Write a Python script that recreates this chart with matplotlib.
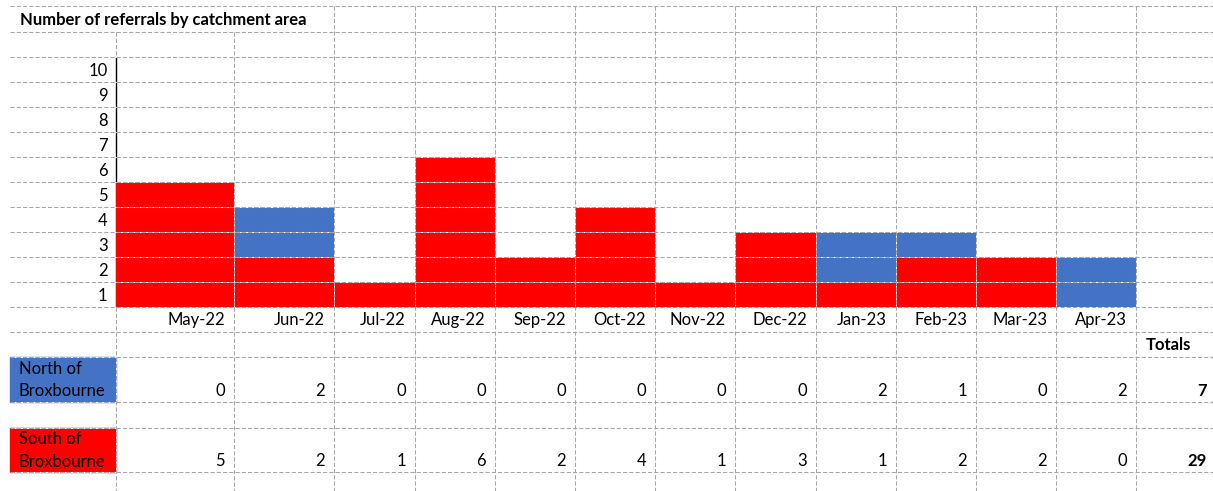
import matplotlib.pyplot as plt

# data
months = ['May-22', 'Jun-22', 'Jul-22', 'Aug-22', 'Sep-22', 'Oct-22',
          'Nov-22', 'Dec-22', 'Jan-23', 'Feb-23', 'Mar-23', 'Apr-23']
north = [0, 2, 0, 0, 0, 0, 0, 0, 2, 1, 0, 2]
south = [5, 2, 1, 6, 2, 4, 1, 3, 1, 2, 2, 0]
y_labels = list(range(1, 11))
title = 'Number of referrals by catchment area'

# sheet layout (pixels)
W, H = 1213, 491
col_edges = [116, 234, 334, 415, 495, 575, 655, 735, 816, 896, 976, 1056, 1136]
row_lines = [6, 32, 57, 82, 107, 132, 157, 182, 207, 232, 257, 282, 307,
             332, 357, 402, 428, 472]
RED = '#FF0000'
BLUE = '#4472C4'
GRID = '#A6A6A6'
FONT = 'Lato'
FS = 12

fig = plt.figure(figsize=(W / 100, H / 100), dpi=100)

# chart area: rows 1..10 sit between y=307 and y=57
ax = fig.add_axes([116 / W, (H - 307) / H, (1136 - 116) / W, 250 / H])
lefts = col_edges[:-1]
widths = [b - a for a, b in zip(col_edges[:-1], col_edges[1:])]
ax.bar(lefts, south, width=widths, align='edge', color=RED, zorder=3, linewidth=0)
ax.bar(lefts, north, width=widths, bottom=south, align='edge', color=BLUE,
       zorder=3, linewidth=0)
ax.set_xlim(116, 1136)
ax.set_ylim(0, 10)
ax.set_yticks([v - 0.5 for v in y_labels])
ax.set_yticklabels([str(v) for v in y_labels], fontfamily=FONT, fontsize=FS)
ax.tick_params(axis='y', length=0, pad=6)
ax.set_xticks([])
for s in ['top', 'right', 'bottom']:
    ax.spines[s].set_visible(False)
ax.spines['left'].set_color('black')
ax.spines['left'].set_linewidth(1.0)
ax.patch.set_alpha(0)

# overlay for the sheet grid and text
ov = fig.add_axes([0, 0, 1, 1], facecolor='none')
ov.set_xlim(0, W)
ov.set_ylim(H, 0)
ov.axis('off')

dash = dict(color=GRID, lw=0.75, linestyle=(0, (4, 2)), gapcolor='white')
for y in row_lines:
    ov.plot([10, W], [y, y], **dash)
for x in col_edges:
    if x == 116:
        # the value axis line takes this border inside the chart rows
        ov.plot([x, x], [32, 57], **dash)
        ov.plot([x, x], [307, H], **dash)
        continue
    top = 32 if x < 334 else 6
    ov.plot([x, x], [top, H], **dash)

ov.text(20, 20, title, fontfamily=FONT, fontsize=FS, fontweight='bold',
        va='center', ha='left')

for i, m in enumerate(months):
    ov.text(col_edges[i + 1] - 9, 320, m, fontfamily=FONT, fontsize=FS,
            ha='right', va='center')

# legend-like table rows
ov.add_patch(plt.Rectangle((10, 357), 106, 45, color=BLUE, zorder=1))
ov.add_patch(plt.Rectangle((10, 428), 106, 44, color=RED, zorder=1))
ov.text(19, 369, 'North of', fontfamily=FONT, fontsize=FS, va='center')
ov.text(19, 391, 'Broxbourne', fontfamily=FONT, fontsize=FS, va='center')
ov.text(19, 439, 'South of', fontfamily=FONT, fontsize=FS, va='center')
ov.text(19, 462, 'Broxbourne', fontfamily=FONT, fontsize=FS, va='center')

for i in range(len(months)):
    ov.text(col_edges[i + 1] - 9, 391, str(north[i]), fontfamily=FONT,
            fontsize=FS, ha='right', va='center')
    ov.text(col_edges[i + 1] - 9, 461, str(south[i]), fontfamily=FONT,
            fontsize=FS, ha='right', va='center')

ov.text(1146, 345, 'Totals', fontfamily=FONT, fontsize=FS, fontweight='bold',
        va='center')
ov.text(1207, 391, str(sum(north)), fontfamily=FONT, fontsize=FS,
        fontweight='bold', ha='right', va='center')
ov.text(1207, 461, str(sum(south)), fontfamily=FONT, fontsize=FS,
        fontweight='bold', ha='right', va='center')

fig.savefig('out.png', dpi=100)
